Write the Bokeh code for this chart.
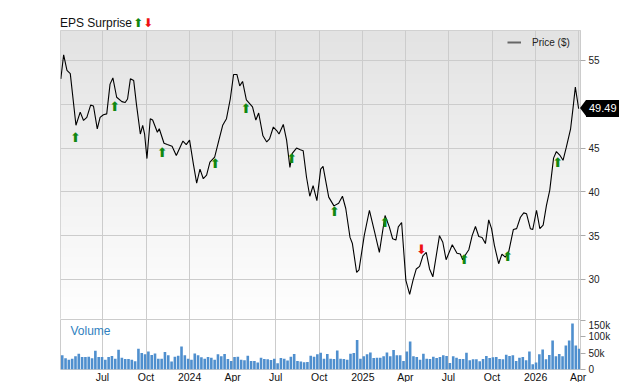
import numpy as np
import pandas as pd
from bokeh.plotting import figure
from bokeh.models import (ColumnDataSource, FixedTicker, NumeralTickFormatter, Label,
                          Legend, LegendItem, Range1d, Grid, GridBox, Div)
from bokeh.core.properties import value
from bokeh.embed import file_html
from bokeh.resources import INLINE

FONT = "Liberation Sans"

# ---------------- data ----------------
price_dates = [
    "2023-04-04", "2023-04-10", "2023-04-17", "2023-04-24", "2023-05-06", "2023-05-15", "2023-05-22", "2023-05-29", "2023-06-06", "2023-06-12",
    "2023-06-20", "2023-06-26", "2023-07-03", "2023-07-10", "2023-07-17", "2023-07-23", "2023-07-31", "2023-08-11", "2023-08-18", "2023-08-23",
    "2023-08-29", "2023-09-05", "2023-09-11", "2023-09-19", "2023-09-24", "2023-09-28", "2023-10-03", "2023-10-10", "2023-10-15", "2023-10-25",
    "2023-10-29", "2023-11-08", "2023-11-15", "2023-11-25", "2023-12-04", "2023-12-18", "2023-12-25", "2024-01-01", "2024-01-09", "2024-01-16",
    "2024-01-23", "2024-01-30", "2024-02-06", "2024-02-13", "2024-02-23", "2024-03-03", "2024-03-11", "2024-03-19", "2024-03-27", "2024-04-03",
    "2024-04-10", "2024-04-16", "2024-04-22", "2024-04-30", "2024-05-13", "2024-05-20", "2024-05-26", "2024-06-04", "2024-06-12", "2024-06-18",
    "2024-06-26", "2024-07-03", "2024-07-08", "2024-07-17", "2024-07-24", "2024-07-31", "2024-08-05", "2024-08-14", "2024-08-22", "2024-08-28",
    "2024-09-04", "2024-09-11", "2024-09-18", "2024-09-26", "2024-10-04", "2024-10-09", "2024-10-21", "2024-11-01", "2024-11-11", "2024-11-19",
    "2024-11-26", "2024-12-05", "2024-12-10", "2024-12-19", "2024-12-24", "2025-01-04", "2025-01-15", "2025-01-26", "2025-02-05", "2025-02-17",
    "2025-02-26", "2025-03-05", "2025-03-12", "2025-03-17", "2025-03-24", "2025-04-02", "2025-04-10", "2025-04-17", "2025-04-24", "2025-05-01",
    "2025-05-08", "2025-05-15", "2025-05-22", "2025-05-29", "2025-06-12", "2025-06-19", "2025-06-26", "2025-07-09", "2025-07-19", "2025-07-26",
    "2025-07-31", "2025-08-07", "2025-08-13", "2025-08-20", "2025-08-27", "2025-09-03", "2025-09-10", "2025-09-17", "2025-09-24", "2025-09-30",
    "2025-10-06", "2025-10-15", "2025-10-22", "2025-10-29", "2025-11-05", "2025-11-15", "2025-11-22", "2025-11-30", "2025-12-07", "2025-12-13",
    "2025-12-21", "2025-12-26", "2026-01-03", "2026-01-10", "2026-01-17", "2026-01-24", "2026-01-31", "2026-02-08", "2026-02-14", "2026-02-21",
    "2026-02-28", "2026-03-07", "2026-03-16", "2026-03-21", "2026-03-26", "2026-04-02",
]
price_values = [
    52.9, 55.65, 53.86, 53.5, 47.6, 49.1, 48.15, 48.5, 49.9, 49.8,
    47.2, 48.5, 48.8, 48.9, 52.3, 53.0, 50.8, 50.3, 50.2, 50.6,
    52.9, 52.7, 49.9, 46.6, 47.6, 46.6, 43.8, 48.35, 48.2, 46.8,
    47.2, 45.55, 45.4, 45.2, 44.15, 45.8, 45.4, 45.9, 43.2, 41.0,
    42.6, 41.5, 41.9, 43.4, 43.96, 45.9, 47.6, 48.35, 50.6, 53.4,
    53.4, 52.1, 52.6, 50.5, 49.7, 48.2, 49.0, 46.4, 45.7, 46.05,
    47.4, 47.0, 46.6, 47.7, 45.9, 42.8, 44.4, 45.0, 44.8, 44.7,
    41.7, 39.5, 40.7, 39.0, 42.6, 42.9, 39.4, 38.4, 38.7, 39.5,
    38.1, 34.8, 34.1, 30.8, 31.1, 35.0, 37.9, 35.4, 33.1, 37.3,
    36.0, 34.65, 34.5, 36.0, 36.5, 29.9, 28.3, 29.9, 31.2, 31.5,
    32.7, 33.1, 31.2, 30.3, 35.0, 34.25, 32.25, 33.96, 33.0, 32.9,
    32.25, 32.9, 33.4, 35.0, 36.05, 34.9, 34.8, 34.1, 36.8, 35.8,
    33.9, 31.8, 32.9, 32.55, 33.1, 35.7, 35.8, 37.1, 37.6, 37.5,
    35.8, 35.7, 37.9, 35.8, 36.2, 38.45, 40.2, 43.85, 44.6, 44.2,
    43.6, 45.1, 47.2, 49.5, 51.95, 49.49,
]
last_price = 49.49

eps_up_dates = ["2023-05-05", "2023-07-27", "2023-11-04", "2024-02-24", "2024-04-29", "2024-08-04",
                "2024-11-02", "2025-02-17", "2025-08-03", "2025-11-03", "2026-02-17"]
eps_up_values = [47.1, 50.6, 45.4, 44.15, 50.4, 44.7, 38.6, 37.4, 33.1, 33.5, 44.2]
eps_down_dates = ["2025-05-05"]
eps_down_values = [32.55]

volume_start = "2023-04-07"   # weekly bars
volume_k = [
    43, 34, 30, 33, 40, 48, 38, 38, 39, 34,
    57, 38, 38, 30, 38, 41, 33, 60, 36, 32,
    32, 30, 25, 63, 50, 46, 55, 44, 49, 33,
    33, 53, 43, 24, 39, 42, 70, 43, 33, 30,
    49, 43, 37, 33, 38, 36, 30, 46, 40, 47,
    32, 26, 38, 39, 30, 28, 42, 26, 26, 21,
    36, 32, 31, 29, 33, 19, 35, 33, 27, 39,
    47, 26, 24, 22, 23, 42, 39, 46,
    51, 33, 47, 33, 32, 58, 33, 32, 30, 48,
    50, 90, 33, 40, 46, 52, 35, 36, 36, 40,
    52, 40, 59, 43, 43, 26, 55, 85, 40, 38,
    30, 48, 33, 32, 39, 35, 38, 43, 41, 20,
    40, 36, 32, 32, 51, 28, 31, 31, 25, 32,
    41, 35, 37, 38, 32, 31, 45, 41, 43, 26,
    36, 38, 28, 55, 16, 21, 46, 61, 31, 44,
    88, 40, 47, 40, 73, 88, 140, 73, 63,
]

tick_dates = ["2023-07-01", "2023-10-01", "2024-01-01", "2024-04-01", "2024-07-01", "2024-10-01",
              "2025-01-01", "2025-04-01", "2025-07-01", "2025-10-01", "2026-01-01", "2026-04-01"]
tick_labels = ["Jul", "Oct", "2024", "Apr", "Jul", "Oct", "2025", "Apr", "Jul", "Oct", "2026", "Apr"]
price_grid = [30, 35, 40, 45, 50, 55]
price_tick_labels = [30, 35, 40, 45, 55]
volume_ticks = [0, 50000, 100000, 150000]

# ---------------- helpers ----------------
def ms(d):
    return pd.Timestamp(d).value / 1e6

x_start = ms("2023-04-03 08:00")
x_end = ms("2026-04-05 22:00")
price_lo, price_hi = 25.43, 58.42
vol_hi = 152000
LEFT, TOP = 60, 30
FW, PH, VH = 520, 289, 50
CANVAS_H = PH + TOP
GRID = "#cccccc"
DAY = 86400000
px_per_dollar = PH / (price_hi - price_lo)

tick_ms = [ms(d) for d in tick_dates]

# ---------------- price panel ----------------
p = figure(width=640, height=CANVAS_H, frame_width=FW, frame_height=PH,
           x_axis_type="datetime", x_axis_location=None, y_axis_location="right",
           x_range=Range1d(x_start, x_end), y_range=Range1d(price_lo, price_hi),
           output_backend="svg", toolbar_location=None,
           min_border_left=LEFT, min_border_right=60, min_border_top=TOP, min_border_bottom=0)
p.center = [c for c in p.center if not isinstance(c, Grid)]
p.add_layout(Grid(dimension=0, ticker=FixedTicker(ticks=tick_ms), grid_line_color=GRID))
p.add_layout(Grid(dimension=1, ticker=FixedTicker(ticks=price_grid), grid_line_color=GRID))
p.outline_line_color = GRID
p.background_fill_color = "white"
p.border_fill_color = "white"

# gradient background
n = 128
grad = np.empty((n, 1), dtype=np.uint32)
view = grad.view(dtype=np.uint8).reshape((n, 1, 4))
shade = np.linspace(255, 227, n).astype(np.uint8)
view[:, 0, 0] = shade
view[:, 0, 1] = shade
view[:, 0, 2] = shade
view[:, 0, 3] = 255
img = p.image_rgba(image=[grad], x=x_start, y=price_lo, dw=x_end - x_start, dh=price_hi - price_lo)
img.level = "underlay"

src = ColumnDataSource(dict(x=pd.to_datetime(price_dates), y=price_values))
line_r = p.line("x", "y", source=src, line_color="black", line_width=1.1)
legend_r = p.line(x=pd.to_datetime(price_dates[:1]), y=price_values[:1], line_color="#666666", line_width=2)

up_src = ColumnDataSource(dict(x=pd.to_datetime(eps_up_dates), y=eps_up_values))
p.text("x", "y", source=up_src, text=value("\u2b06"), text_color="#118811",
       text_font=value("DejaVu Sans"), text_font_size=value("13px"),
       text_align="center", text_baseline="top")
dn_src = ColumnDataSource(dict(x=pd.to_datetime(eps_down_dates), y=eps_down_values))
p.text("x", "y", source=dn_src, text=value("\u2b07"), text_color="#ee1111",
       text_font=value("DejaVu Sans"), text_font_size=value("13px"),
       text_align="center", text_baseline="bottom")

ya = p.yaxis[0]
ya.ticker = FixedTicker(ticks=price_tick_labels)
ya.major_tick_out = 5
ya.major_tick_in = 0
ya.minor_tick_line_color = None
ya.major_tick_line_color = "#aaaaaa"
ya.axis_line_color = GRID
ya.major_label_text_font = FONT
ya.major_label_text_font_size = "10px"
ya.major_label_text_color = "#222222"
ya.major_label_standoff = 3

legend = Legend(items=[LegendItem(label="Price ($)", renderers=[legend_r])],
                location="top_right", margin=0, padding=6, label_width=42,
                label_standoff=11, glyph_width=14, glyph_height=12, label_height=12,
                background_fill_alpha=0, border_line_alpha=0,
                label_text_font=FONT, label_text_font_size="10px", label_text_color="#222222")
p.add_layout(legend)

# ---------------- HTML overlay: title and last-price callout ----------------
cx = LEFT + FW
cy = TOP + (price_hi - last_price) * px_per_dollar
overlay_html = f"""
<div style="position:relative;width:640px;height:{CANVAS_H}px;pointer-events:none;">
  <div style="position:absolute;left:{LEFT}px;top:15.5px;font-family:'{FONT}';font-size:12px;line-height:14px;color:#111111;white-space:nowrap;">EPS Surprise<span style="font-family:'DejaVu Sans';font-size:12px;color:#118811;margin-left:1px;">&#x2B06;</span><span style="font-family:'DejaVu Sans';font-size:12px;color:#ee1111;">&#x2B07;</span></div>
  <div style="position:absolute;left:{cx}px;top:{cy - 8.5:.1f}px;width:0;height:0;border-top:8.5px solid transparent;border-bottom:8.5px solid transparent;border-right:6px solid #000000;"></div>
  <div style="position:absolute;left:{cx + 6}px;top:{cy - 8.5:.1f}px;width:33px;height:17px;padding-left:3px;background:#000000;color:#ffffff;font-family:'{FONT}';font-size:11px;line-height:17px;white-space:nowrap;">{last_price:.2f}</div>
</div>
"""
overlay = Div(text=overlay_html, width=640, height=CANVAS_H, margin=0)

# ---------------- volume panel ----------------
v = figure(width=640, height=VH + 13, frame_width=FW, frame_height=VH,
           x_axis_type="datetime", y_axis_location="right",
           x_range=p.x_range, y_range=Range1d(0, vol_hi),
           output_backend="svg", toolbar_location=None,
           min_border_left=LEFT, min_border_right=60, min_border_top=0, min_border_bottom=0)
v.center = [c for c in v.center if not isinstance(c, Grid)]
v.add_layout(Grid(dimension=0, ticker=FixedTicker(ticks=tick_ms), grid_line_color=GRID))
v.outline_line_color = GRID
v.background_fill_color = "white"
v.border_fill_color = "white"

vol_dates = pd.date_range(volume_start, periods=len(volume_k), freq="7D")
vsrc = ColumnDataSource(dict(x=vol_dates, top=[k * 1000 for k in volume_k]))
v.vbar(x="x", top="top", width=5.5 * DAY, source=vsrc, fill_color="#4f8fce", line_color=None)

vy = v.yaxis[0]
vy.ticker = FixedTicker(ticks=volume_ticks)
vy.formatter = NumeralTickFormatter(format="0a")
vy.major_tick_out = 5
vy.major_tick_in = 0
vy.minor_tick_line_color = None
vy.major_tick_line_color = "#aaaaaa"
vy.axis_line_color = GRID
vy.major_label_text_font = FONT
vy.major_label_text_font_size = "10px"
vy.major_label_text_color = "#222222"
vy.major_label_standoff = 3

vx = v.xaxis[0]
vx.ticker = FixedTicker(ticks=tick_ms)
vx.major_label_overrides = {t: lab for t, lab in zip(tick_ms, tick_labels)}
vx.major_tick_out = 0
vx.major_tick_in = 0
vx.minor_tick_line_color = None
vx.axis_line_color = None
vx.major_label_text_font = FONT
vx.major_label_text_font_size = "10.5px"
vx.major_label_text_color = "#111111"
vx.major_label_standoff = 1

v.add_layout(Label(x=10, y=VH - 11, x_units="screen", y_units="screen", text="Volume",
                   text_font=FONT, text_font_size="12px", text_color="#2f7fc0",
                   text_baseline="middle"))

layout = GridBox(children=[(p, 0, 0), (overlay, 0, 0), (v, 1, 0)], spacing=0)
open("out.html", "w").write(file_html(layout, INLINE))
